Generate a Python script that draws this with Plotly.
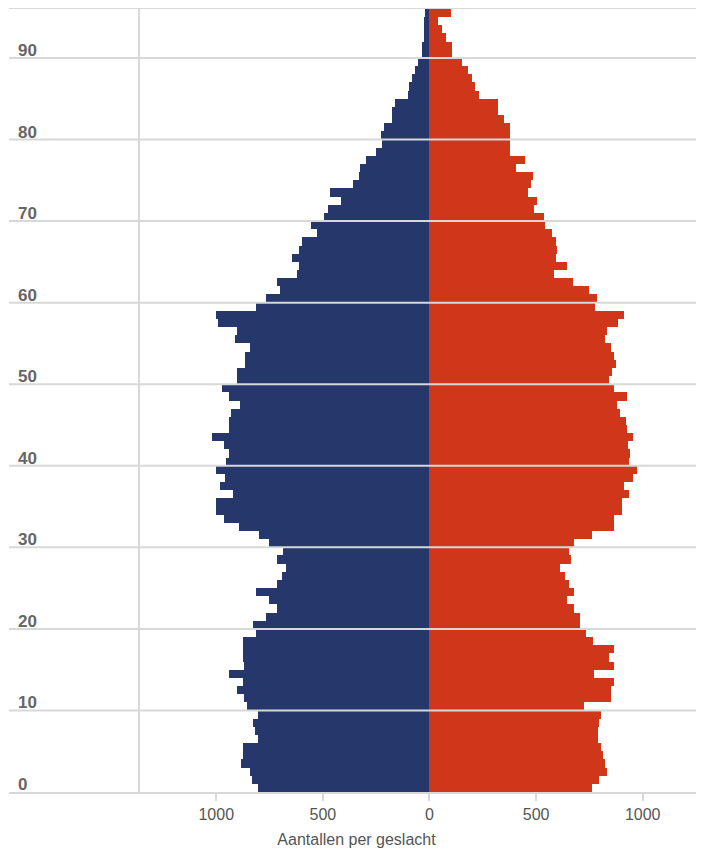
import plotly.graph_objects as go

ages = list(range(96))

men = [806, 833, 842, 886, 876, 876, 806, 820, 829, 806,
       858, 868, 904, 876, 939, 868, 876, 876, 876, 812,
       829, 768, 717, 753, 814, 717, 690, 673, 717, 689,
       753, 798, 895, 965, 1001, 1001, 923, 984, 958, 1001,
       956, 939, 965, 1018, 939, 939, 931, 887, 939, 975,
       903, 903, 867, 867, 842, 912, 903, 993, 1001, 812,
       768, 701, 715, 620, 610, 643, 610, 599, 529, 556,
       494, 475, 413, 465, 360, 331, 324, 300, 252, 224,
       227, 211, 175, 175, 160, 101, 97, 84, 70, 55,
       36, 34, 27, 27, 27, 23]

women = [761, 795, 831, 823, 815, 804, 788, 788, 795, 804,
         726, 850, 850, 866, 770, 866, 842, 866, 768, 734,
         706, 706, 680, 643, 680, 654, 636, 612, 662, 654,
         680, 761, 866, 866, 901, 901, 937, 914, 956, 975,
         937, 940, 933, 956, 925, 922, 893, 878, 928, 866,
         840, 858, 875, 866, 850, 823, 831, 883, 912, 778,
         786, 750, 672, 584, 643, 592, 600, 592, 573, 542,
         539, 492, 502, 460, 475, 484, 406, 448, 378, 378,
         377, 377, 350, 320, 320, 232, 215, 198, 179, 152,
         105, 105, 78, 57, 42, 99]

x_tickvals = [-1000, -500, 0, 500, 1000]
x_ticktext = ["1000", "500", "0", "500", "1000"]
y_tickvals = [0, 10, 20, 30, 40, 50, 60, 70, 80, 90]
y_ticktext = [str(v) for v in y_tickvals]

NAVY = "#25376B"
RED = "#D0361A"
GRID = "#d8d8d8"
FONT = "Liberation Sans"

fig = go.Figure()
fig.add_trace(go.Bar(
    y=ages, x=[-v for v in men], orientation="h", name="Mannen",
    marker=dict(color=NAVY, line=dict(width=0)), width=1, offset=0,
))
fig.add_trace(go.Bar(
    y=ages, x=women, orientation="h", name="Vrouwen",
    marker=dict(color=RED, line=dict(width=0)), width=1, offset=0,
))

shapes = []
for v in y_tickvals[1:]:
    shapes.append(dict(type="line", xref="paper", x0=0, x1=1, yref="y", y0=v, y1=v,
                       line=dict(color=GRID, width=2), layer="above"))
shapes.append(dict(type="line", xref="paper", x0=0.187, x1=0.187, yref="paper", y0=0, y1=1,
                   line=dict(color=GRID, width=2), layer="below"))

fig.update_layout(
    width=696, height=840,
    margin=dict(l=1, r=0, t=1, b=56),
    paper_bgcolor="white", plot_bgcolor="white",
    barmode="overlay", bargap=0,
    showlegend=False,
    shapes=shapes,
    font=dict(family=FONT, size=16, color="#555555"),
    xaxis=dict(
        range=[-1972, 1287.5], tickvals=x_tickvals, ticktext=x_ticktext,
        ticks="outside", ticklen=7, tickwidth=2, tickcolor=GRID,
        showline=True, linecolor=GRID, linewidth=2, mirror=True,
        showgrid=False, zeroline=False,
        tickfont=dict(family=FONT, size=16, color="#555555"),
        title=dict(text="Aantallen per geslacht", standoff=12,
                   font=dict(family=FONT, size=16, color="#555555")),
    ),
    yaxis=dict(
        range=[0, 96], tickvals=y_tickvals, ticktext=y_ticktext,
        ticklabelposition="inside top", ticks="",
        ticklabelstandoff=6, ticklabelshift=4, ticklabeloverflow="allow",
        showgrid=False, zeroline=False, showline=False,
        tickfont=dict(family=FONT, size=17, color="#666666", weight="bold"),
    ),
)

fig.write_html("out.html")
